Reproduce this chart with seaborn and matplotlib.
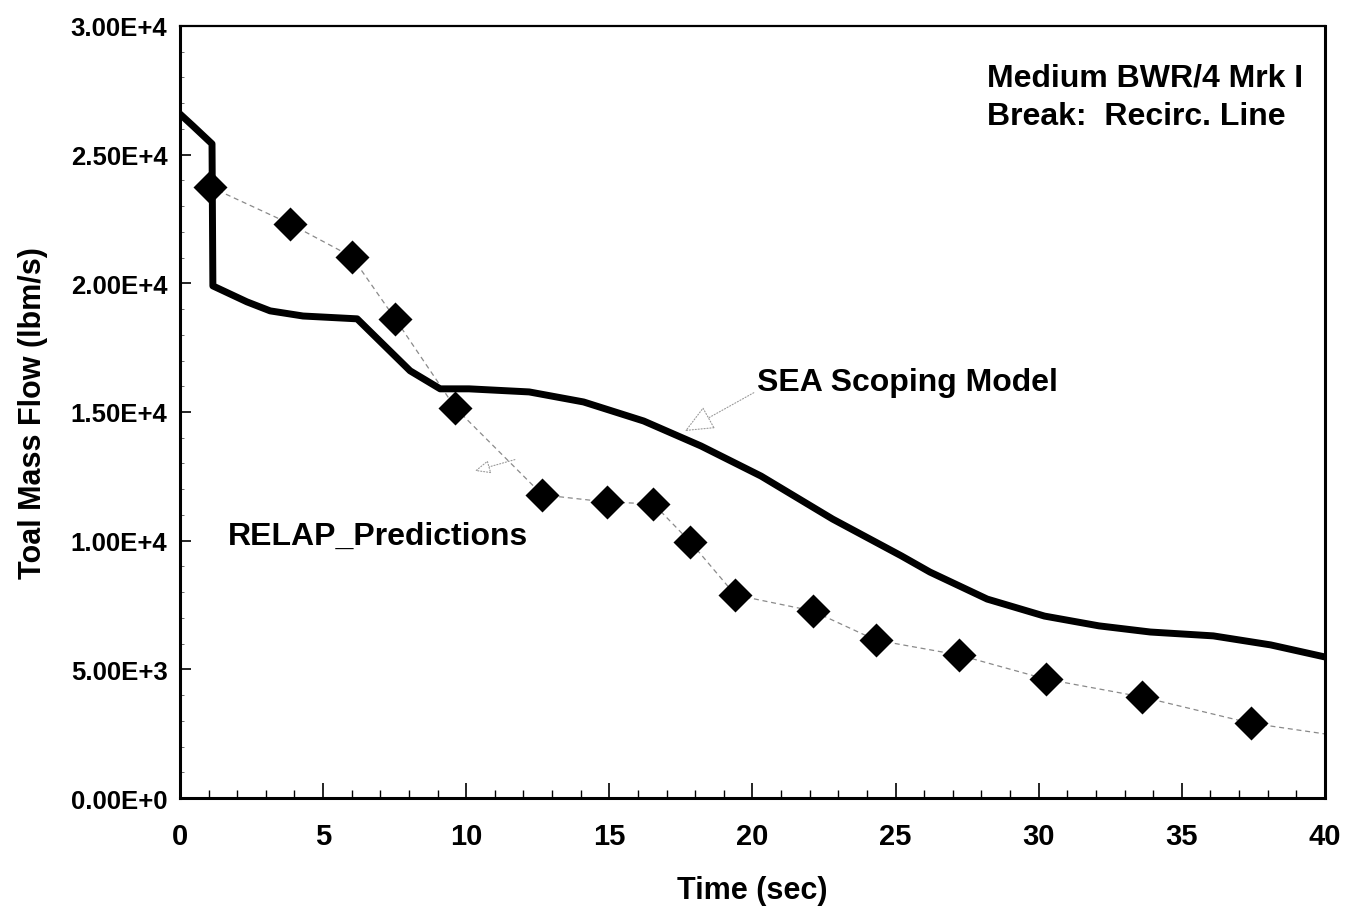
import matplotlib
matplotlib.use("Agg")
import matplotlib.pyplot as plt
from matplotlib.ticker import MultipleLocator
import seaborn as sns
import pandas as pd

# SEA Scoping Model (solid line)
sea_time = [0.0, 0.45, 1.12, 1.15, 2.34, 3.15, 4.3, 6.19, 8.04, 9.09, 10.1, 12.2,
            14.1, 16.2, 18.2, 20.3, 22.8, 25.2, 26.2, 28.2, 30.2, 32.1, 33.9,
            36.1, 38.1, 40.0]
sea_flow = [26580, 26120, 25420, 19900, 19280, 18930, 18730, 18620, 16600, 15900,
            15900, 15780, 15390, 14650, 13680, 12510, 10840, 9410, 8780, 7730,
            7070, 6690, 6450, 6300, 5950, 5480]

# RELAP predictions (diamonds joined by a thin dotted line)
relap_time = [1.05, 3.85, 6.01, 7.52, 9.62, 12.66, 14.93, 16.54, 17.83, 19.4,
              22.1, 24.3, 27.2, 30.25, 33.6, 37.4, 40.0]
relap_flow = [23750, 22310, 21030, 18620, 15160, 11780, 11500, 11430, 9950, 7890,
              7270, 6140, 5560, 4620, 3930, 2910, 2490]
n_markers = 16

yticks = [0, 5000, 10000, 15000, 20000, 25000, 30000]
ytick_labels = ["0.00E+0", "5.00E+3", "1.00E+4", "1.50E+4", "2.00E+4", "2.50E+4", "3.00E+4"]
xticks = [0, 5, 10, 15, 20, 25, 30, 35, 40]

sns.set_theme(style="white")
plt.rcParams["font.family"] = ["Liberation Sans", "DejaVu Sans"]
plt.rcParams["font.weight"] = "bold"
plt.rcParams["text.color"] = "black"
plt.rcParams["axes.labelcolor"] = "black"
plt.rcParams["xtick.color"] = "black"
plt.rcParams["ytick.color"] = "black"

fig = plt.figure(figsize=(13.49, 9.12), dpi=100)
ax = fig.add_axes([0.1334, 0.1239, 0.9822 - 0.1334, 0.9704 - 0.1239])

sea_df = pd.DataFrame({"t": sea_time, "f": sea_flow})
relap_df = pd.DataFrame({"t": relap_time, "f": relap_flow})

sns.lineplot(data=relap_df, x="t", y="f", ax=ax, color="#8a8a8a", lw=0.9,
             linestyle=(0, (4, 3)), estimator=None, sort=False)
sns.scatterplot(data=relap_df.iloc[:n_markers], x="t", y="f", ax=ax, marker="D",
                s=300, color="black", edgecolor="black", linewidth=0, zorder=4)
sns.lineplot(data=sea_df, x="t", y="f", ax=ax, color="black", lw=5,
             estimator=None, sort=False, zorder=3)

ax.set_xlim(0, 40)
ax.set_ylim(0, 30000)
ax.set_xticks(xticks)
ax.set_xticklabels([str(v) for v in xticks], fontsize=21, fontweight="bold")
ax.set_yticks(yticks)
ax.set_yticklabels(ytick_labels, fontsize=18.5, fontweight="bold")
ax.xaxis.set_minor_locator(MultipleLocator(1))
ax.yaxis.set_minor_locator(MultipleLocator(1000))
ax.tick_params(axis="x", which="major", direction="in", length=11, width=1.2,
               color="black", pad=17, bottom=True)
ax.tick_params(axis="x", which="minor", direction="in", length=6, width=1,
               color="black", bottom=True)
ax.tick_params(axis="y", which="major", direction="in", length=8, width=1.2,
               color="black", pad=9, left=True)
ax.tick_params(axis="y", which="minor", direction="in", length=3, width=0.6,
               color="#555555", left=True)

for side in ["left", "bottom", "right", "top"]:
    ax.spines[side].set_color("black")
    ax.spines[side].set_linewidth(2.2)
ax.spines["top"].set_linewidth(1.6)

ax.set_xlabel("Time (sec)", fontsize=22, fontweight="bold", labelpad=18)
ax.set_ylabel("Toal Mass Flow (lbm/s)", fontsize=22, fontweight="bold", labelpad=16)

ax.text(28.2, 27250, "Medium BWR/4 Mrk I\nBreak:  Recirc. Line", fontsize=23,
        fontweight="bold", va="center", ha="left", linespacing=1.4)

ax.annotate("SEA Scoping Model", xy=(17.64, 14260), xytext=(20.16, 16170),
            fontsize=23, fontweight="bold", va="center", ha="left",
            arrowprops=dict(arrowstyle="-|>,head_length=0.8,head_width=0.35",
                            color="#999999", lw=0.8, linestyle=":", fc="white",
                            shrinkA=0, shrinkB=0, relpos=(0, 0.2)))
ax.text(1.68, 10180, "RELAP_Predictions", fontsize=23, fontweight="bold",
        va="center", ha="left")
ax.annotate("", xy=(10.3, 12710), xytext=(11.7, 13150),
            arrowprops=dict(arrowstyle="-|>,head_length=0.8,head_width=0.35",
                            color="#999999", lw=0.8, linestyle=":", fc="white",
                            shrinkA=0, shrinkB=0))

fig.savefig("out.png", dpi=100)
